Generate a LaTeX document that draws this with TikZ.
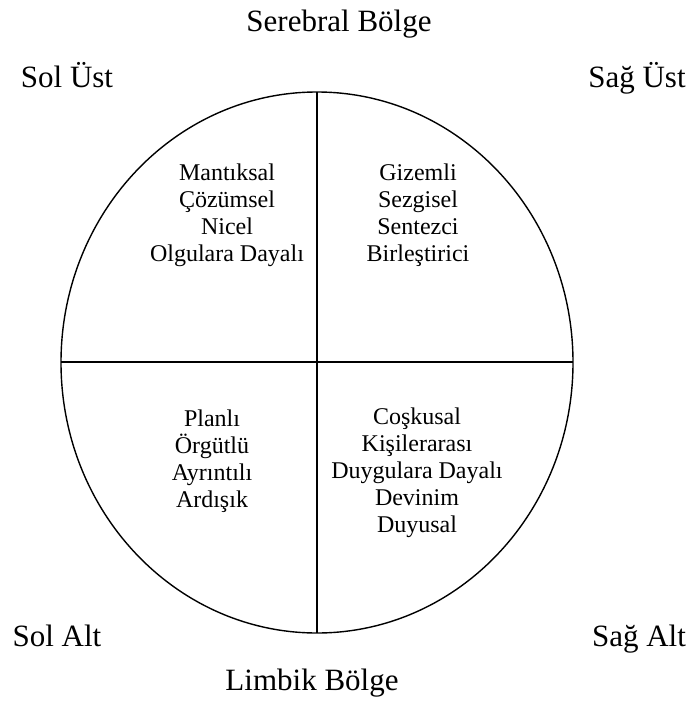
\documentclass[tikz,border=0pt]{standalone}
\usepackage{fontspec}
\setmainfont{Liberation Serif}
\begin{document}
\begin{tikzpicture}[x=1pt,y=-1pt,
  outline/.style={line width=1.4pt, draw=black},
  outer/.style={inner sep=0pt, anchor=base, font=\fontsize{31}{33}\selectfont},
  inner/.style={inner sep=0pt, anchor=center, align=center, font=\fontsize{24}{27}\selectfont}]
\useasboundingbox (0,0) rectangle (692,701);
\coordinate (c) at (317,362.5);
\coordinate (top) at (317,92);
\coordinate (bot) at (317,633);
\coordinate (lft) at (61,362);
\coordinate (rgt) at (573,362);
\draw[outline] (c) ellipse [x radius=256, y radius=270.5];
\draw[outline] (top) -- (bot);
\draw[outline] (lft) -- (rgt);
\node[outer] (serebral) at (339,32) {Serebral Bölge};
\node[outer] (limbik) at (312,690) {Limbik Bölge};
\node[outer] (solust) at (67,88) {Sol Üst};
\node[outer] (sagust) at (637,88) {Sağ Üst};
\node[outer] (solalt) at (57,646) {Sol Alt};
\node[outer] (sagalt) at (639,646) {Sağ Alt};
\node[inner] (tl) at (227,215) {Mantıksal\\Çözümsel\\Nicel\\Olgulara Dayalı};
\node[inner] (tr) at (418,215) {Gizemli\\Sezgisel\\Sentezci\\Birleştirici};
\node[inner] (bl) at (212,461) {Planlı\\Örgütlü\\Ayrıntılı\\Ardışık};
\node[inner] (br) at (417,473) {Coşkusal\\Kişilerarası\\Duygulara Dayalı\\Devinim\\Duyusal};
\end{tikzpicture}
\end{document}
